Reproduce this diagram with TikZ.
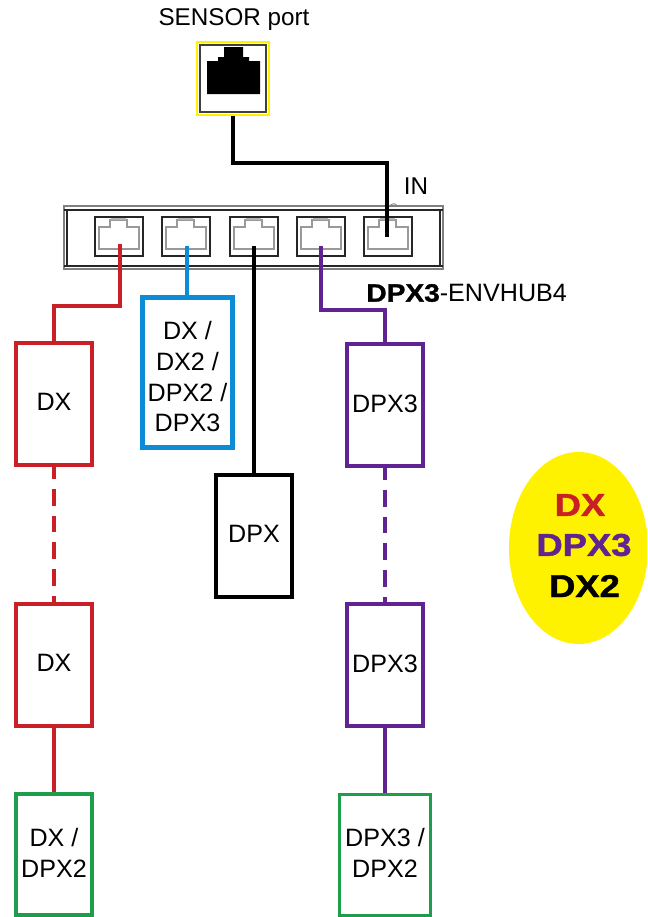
\documentclass[tikz,border=0pt]{standalone}
\usepackage{fontspec}
\setmainfont{Liberation Sans}
\newfontfamily\heavyfont[FakeBold=1.2]{Liberation Sans Bold}
\usetikzlibrary{shapes.geometric}
\definecolor{wireRed}{RGB}{200, 32, 38}
\definecolor{wireBlue}{RGB}{10, 140, 214}
\definecolor{wirePurple}{RGB}{96, 36, 146}
\definecolor{wireGreen}{RGB}{30, 158, 74}
\definecolor{signYellow}{RGB}{255, 242, 0}
\tikzset{
  unitbox/.style={draw, line width=2pt, fill=white, minimum width=1.53cm, minimum height=2.44cm,
    inner sep=0pt, align=center, text depth=2pt, font=\fontsize{14.3}{17.5}\selectfont},
  greenbox/.style={unitbox, draw=wireGreen, minimum height=2.42cm},
  wire/.style={line width=2pt},
  dashwire/.style={wire, dash pattern=on 9.6pt off 5.7pt, dash phase=2.8pt},
  portbox/.style={draw=black!85, line width=1pt, minimum width=0.97cm, minimum height=0.78cm, inner sep=0pt},
  signtext/.style={font=\fontsize{18}{22}\heavyfont, inner sep=0pt},
  plain/.style={font=\fontsize{13.8}{17}\selectfont, inner sep=0pt}
}
\begin{document}
\begin{tikzpicture}[x=0.02cm, y=-0.02cm]
        \useasboundingbox (0,0) rectangle (647,917);
        \clip (0,0) rectangle (647,917);

        % Sensor port
        \node[plain] (sensorlabel) at (234,20) {SENSOR port};
        \node[draw=signYellow, fill=white, line width=1.2pt, minimum width=1.44cm, minimum height=1.46cm, inner sep=0pt] (sensor) at (233,78.5) {};
        \draw[black!75, line width=1pt] (200,45) rectangle (266,112);
        \fill[black] (207,94) -- (207,61) -- (218,61) -- (218,57) -- (224,57) -- (224,47) -- (243,47)
          -- (243,57) -- (249,57) -- (249,61) -- (260,61) -- (260,94) -- cycle;

        % Hub
        \draw[black!50, line width=0.8pt] (64,206) rectangle (443,269);
        \draw[black!85, line width=0.8pt] (67,210) rectangle (440,266);
        \draw[black!50, line width=0.5pt] (390,206) .. controls (392,203) and (396,203) .. (397,206);
        \draw[black!85, line width=0.8pt] (64,210) -- (67,210) (64,266) -- (67,266) (440,210) -- (443,210) (440,266) -- (443,266);

        % Ports
        \foreach \px/\pname in {119/dx, 186/any, 254/dpx, 321/three, 388/in} {
          \node[portbox] (port\pname) at (\px,236.5) {};
          \draw[black!40, line width=1.1pt] (\px-20,249) -- (\px-20,227) -- (\px-9,227) -- (\px-9,220)
            -- (\px+8,220) -- (\px+8,227) -- (\px+20,227) -- (\px+20,249) -- cycle;
          \fill[black!30] (\px-8,217.5) rectangle (\px+7,220);
        }

        % End points inside the ports
        \coordinate (wiredx) at (120,244);
        \coordinate (wireany) at (187,246);
        \coordinate (wiredpx) at (254,246);
        \coordinate (wirethree) at (321,246);
        \coordinate (wirein) at (387,237);

        % Left chain
        \node[unitbox, draw=wireRed] (dxa) at (54,404) {DX};
        \node[unitbox, draw=wireRed] (dxb) at (54,665) {DX};
        \node[greenbox] (dxc) at (54,854.5) {DX /\\DPX2};

        % Second and third port
        \node[unitbox, draw=wireBlue, line width=2.4pt, minimum width=1.8cm, minimum height=3.0cm] (mixed) at (187.5,372.5) {\rule{0pt}{17pt}DX /\\DX2 /\\DPX2 /\\DPX3};
        \node[unitbox, draw=black] (dpx) at (254,536) {DPX};

        % Right chain
        \node[unitbox, draw=wirePurple] (threea) at (385,405) {DPX3};
        \node[unitbox, draw=wirePurple] (threeb) at (385,665) {DPX3};
        \node[greenbox, minimum width=1.82cm] (threec) at (385,855) {DPX3 /\\DPX2};

        % Wires
        \draw[wire] (sensor.south) |- (300,163) -| (wirein);
        \draw[wire, wireRed] (wiredx) -- (120,306) -| (dxa.north);
        \draw[wire, wireBlue] (wireany) -- (mixed.north -| wireany);
        \draw[wire] (wiredpx) -- (dpx.north);
        \draw[wire, wirePurple] (wirethree) -- (321,310) -| (threea.north);
        \draw[dashwire, wireRed] (dxa.south) -- (dxb.north);
        \draw[wire, wireRed] (dxb.south) -- (dxc.north);
        \draw[dashwire, wirePurple] (threea.south) -- (threeb.north);
        \draw[wire, wirePurple] (threeb.south) -- (threec.north);

        % Hub labels
        \node[plain] (inlabel) at (416,186) {IN};
        \node[plain, font=\fontsize{14.3}{17}\selectfont, anchor=west] (hublabel) at (366,293) {\scalebox{1.12}[1]{\heavyfont DPX3}-ENVHUB4};

        % Sign
        \node[ellipse, fill=signYellow, minimum width=2.78cm, minimum height=3.84cm, inner sep=0pt] (sign) at (578.5,548) {};
        \node[signtext, text=wireRed] (signdx) at (580,505) {\scalebox{1.15}[1]{DX}};
        \node[signtext, text=wirePurple] (signthree) at (584,545) {\scalebox{1.15}[1]{DPX3}};
        \node[signtext] (signtwo) at (584.5,586) {\scalebox{1.15}[1]{DX2}};
    \end{tikzpicture}
\end{document}
